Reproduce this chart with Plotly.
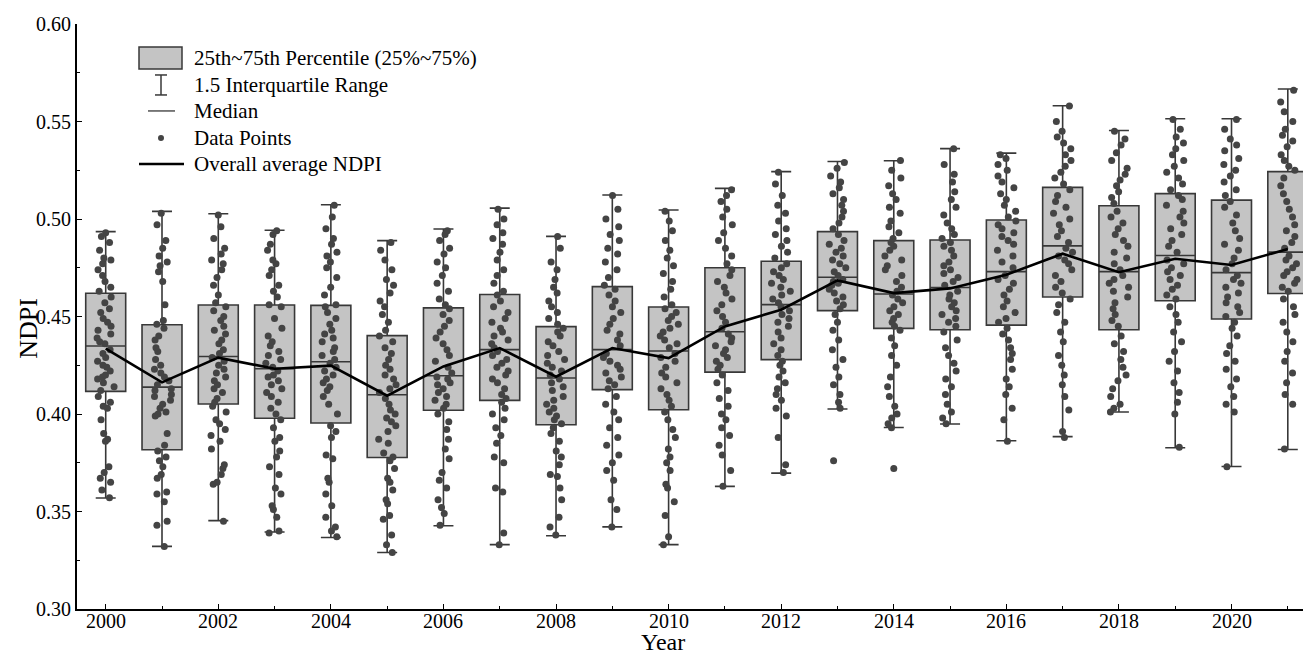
import plotly.graph_objects as go

years = list(range(2000, 2022))

# Box statistics
q1 = [0.4116, 0.3817, 0.4051, 0.3978, 0.3954, 0.3777, 0.4019, 0.4070, 0.3945, 0.4125, 0.4022,
      0.4215, 0.4279, 0.4530, 0.4439, 0.4432, 0.4456, 0.4600, 0.4432, 0.4581, 0.4487, 0.4618]
median = [0.4349, 0.4138, 0.4295, 0.4232, 0.4268, 0.4099, 0.4196, 0.4330, 0.4185, 0.4330, 0.4323,
          0.4422, 0.4561, 0.4701, 0.4615, 0.4649, 0.4730, 0.4862, 0.4730, 0.4813, 0.4725, 0.4830]
q3 = [0.4619, 0.4458, 0.4559, 0.4559, 0.4557, 0.4402, 0.4544, 0.4613, 0.4448, 0.4653, 0.4549,
      0.4750, 0.4783, 0.4935, 0.4889, 0.4892, 0.4995, 0.5162, 0.5068, 0.5130, 0.5097, 0.5243]
lower = [0.3569, 0.3321, 0.3453, 0.3395, 0.3367, 0.3290, 0.3427, 0.3330, 0.3376, 0.3421, 0.3330,
         0.3629, 0.3697, 0.4026, 0.3931, 0.3949, 0.3863, 0.3884, 0.4010, 0.3827, 0.3731, 0.3818]
upper = [0.4935, 0.5039, 0.5027, 0.4942, 0.5073, 0.4889, 0.4949, 0.5056, 0.4911, 0.5123, 0.5046,
         0.5157, 0.5243, 0.5295, 0.5299, 0.5361, 0.5338, 0.5581, 0.5454, 0.5514, 0.5514, 0.5667]

# Overall average NDPI
avg_ndpi = [0.4335, 0.4162, 0.4289, 0.4232, 0.4248, 0.4094, 0.4244, 0.4338, 0.4191, 0.4338, 0.4287,
            0.4449, 0.4535, 0.4685, 0.4620, 0.4644, 0.4714, 0.4822, 0.4727, 0.4796, 0.4764, 0.4846]

# Data points
pts_2000 = [0.357, 0.361, 0.365, 0.367, 0.370, 0.373, 0.386, 0.387, 0.390, 0.397, 0.403, 0.404, 0.406, 0.409,
            0.412, 0.414, 0.416, 0.418, 0.419, 0.420, 0.422, 0.424, 0.425, 0.427, 0.429, 0.431, 0.433,
            0.436, 0.437, 0.439, 0.441, 0.443, 0.445, 0.447, 0.449, 0.452, 0.454, 0.457, 0.460,
            0.463, 0.465, 0.468, 0.471, 0.474, 0.477, 0.479, 0.480, 0.484, 0.488, 0.491, 0.493]
pts_2001 = [0.332, 0.343, 0.345, 0.355, 0.359, 0.360, 0.367, 0.369, 0.373, 0.376, 0.378, 0.381,
            0.384, 0.390, 0.399, 0.400, 0.401, 0.403, 0.405, 0.407, 0.409, 0.410, 0.412, 0.413,
            0.415, 0.417, 0.419, 0.421, 0.423, 0.425, 0.428, 0.432, 0.434, 0.438, 0.440, 0.444,
            0.446, 0.448, 0.456, 0.468, 0.473, 0.476, 0.478, 0.481, 0.485, 0.489, 0.497, 0.503]
pts_2002 = [0.345, 0.364, 0.365, 0.369, 0.372, 0.374, 0.382, 0.386, 0.389, 0.392, 0.395, 0.397, 0.401, 0.404,
            0.406, 0.408, 0.411, 0.413, 0.415, 0.417, 0.419, 0.421, 0.423, 0.425, 0.427, 0.429,
            0.431, 0.433, 0.436, 0.438, 0.441, 0.443, 0.445, 0.448, 0.450, 0.453, 0.455,
            0.457, 0.461, 0.466, 0.470, 0.474, 0.477, 0.479, 0.482, 0.485, 0.490, 0.496, 0.502]
pts_2003 = [0.339, 0.340, 0.347, 0.351, 0.353, 0.359, 0.362, 0.369, 0.373, 0.378, 0.381, 0.386, 0.388, 0.393, 0.397,
            0.400, 0.403, 0.406, 0.409, 0.411, 0.413, 0.415, 0.417, 0.419, 0.420, 0.422,
            0.424, 0.426, 0.428, 0.430, 0.432, 0.435, 0.437, 0.440, 0.444, 0.449, 0.455,
            0.456, 0.460, 0.463, 0.466, 0.471, 0.474, 0.477, 0.479, 0.484, 0.487, 0.492, 0.494]
pts_2004 = [0.337, 0.340, 0.342, 0.347, 0.353, 0.359, 0.365, 0.367, 0.377, 0.379, 0.388, 0.391, 0.394,
            0.400, 0.405, 0.409, 0.412, 0.414, 0.416, 0.418, 0.420, 0.422, 0.424, 0.426,
            0.428, 0.430, 0.432, 0.434, 0.437, 0.439, 0.441, 0.443, 0.446, 0.449, 0.452, 0.455,
            0.456, 0.461, 0.465, 0.470, 0.475, 0.478, 0.481, 0.483, 0.487, 0.490, 0.495, 0.501, 0.507]
pts_2005 = [0.329, 0.333, 0.338, 0.346, 0.348, 0.354, 0.356, 0.361, 0.365, 0.367, 0.372, 0.376,
            0.378, 0.380, 0.385, 0.387, 0.391, 0.394, 0.396, 0.398, 0.400, 0.402, 0.405, 0.408,
            0.411, 0.413, 0.415, 0.418, 0.420, 0.423, 0.425, 0.428, 0.431, 0.434, 0.437, 0.440,
            0.443, 0.447, 0.451, 0.455, 0.458, 0.462, 0.466, 0.469, 0.474, 0.479, 0.484, 0.488]
pts_2006 = [0.343, 0.349, 0.352, 0.356, 0.362, 0.366, 0.370, 0.377, 0.382, 0.387, 0.392, 0.396, 0.400,
            0.403, 0.405, 0.407, 0.409, 0.411, 0.413, 0.415, 0.416, 0.418, 0.419,
            0.421, 0.424, 0.427, 0.430, 0.433, 0.436, 0.439, 0.442, 0.445, 0.448, 0.451, 0.454,
            0.456, 0.459, 0.463, 0.467, 0.471, 0.475, 0.478, 0.482, 0.485, 0.489, 0.492, 0.494]
pts_2007 = [0.333, 0.339, 0.360, 0.362, 0.375, 0.378, 0.385, 0.389, 0.393, 0.397, 0.400, 0.403, 0.406,
            0.408, 0.410, 0.413, 0.416, 0.418, 0.420, 0.422, 0.424, 0.426, 0.428, 0.430, 0.432,
            0.434, 0.436, 0.438, 0.440, 0.442, 0.444, 0.447, 0.449, 0.452, 0.455, 0.458, 0.461,
            0.463, 0.467, 0.471, 0.474, 0.479, 0.483, 0.487, 0.490, 0.493, 0.497, 0.500, 0.505]
pts_2008 = [0.338, 0.342, 0.347, 0.356, 0.362, 0.368, 0.369, 0.374, 0.378, 0.381, 0.386, 0.390, 0.393,
            0.395, 0.397, 0.399, 0.401, 0.403, 0.405, 0.407, 0.409, 0.412, 0.414, 0.416, 0.418,
            0.420, 0.422, 0.424, 0.426, 0.428, 0.430, 0.432, 0.435, 0.437, 0.440, 0.442, 0.444,
            0.446, 0.449, 0.452, 0.455, 0.458, 0.462, 0.465, 0.469, 0.474, 0.478, 0.485, 0.491]
pts_2009 = [0.342, 0.351, 0.356, 0.366, 0.371, 0.375, 0.379, 0.384, 0.388, 0.393, 0.397, 0.401, 0.405, 0.409,
            0.413, 0.415, 0.417, 0.419, 0.421, 0.423, 0.425, 0.427, 0.429, 0.431,
            0.435, 0.438, 0.441, 0.443, 0.446, 0.449, 0.452, 0.455, 0.458, 0.461, 0.464,
            0.466, 0.470, 0.474, 0.478, 0.482, 0.485, 0.489, 0.492, 0.496, 0.500, 0.505, 0.512]
pts_2010 = [0.333, 0.337, 0.348, 0.355, 0.362, 0.364, 0.371, 0.375, 0.378, 0.382, 0.388, 0.392, 0.397, 0.401,
            0.404, 0.407, 0.410, 0.413, 0.416, 0.419, 0.421, 0.424, 0.427, 0.429, 0.431,
            0.434, 0.436, 0.438, 0.440, 0.442, 0.444, 0.446, 0.448, 0.450, 0.452, 0.454,
            0.456, 0.460, 0.464, 0.468, 0.472, 0.476, 0.480, 0.484, 0.489, 0.494, 0.499, 0.504]
pts_2011 = [0.363, 0.371, 0.379, 0.384, 0.389, 0.393, 0.397, 0.400, 0.404, 0.408, 0.412, 0.416, 0.420,
            0.423, 0.425, 0.427, 0.429, 0.431, 0.433, 0.435, 0.437, 0.439, 0.441,
            0.444, 0.447, 0.450, 0.453, 0.456, 0.459, 0.462, 0.465, 0.468, 0.471, 0.474,
            0.477, 0.481, 0.485, 0.489, 0.493, 0.497, 0.501, 0.505, 0.509, 0.512, 0.515]
pts_2012 = [0.370, 0.374, 0.388, 0.399, 0.403, 0.407, 0.410, 0.413, 0.416, 0.419, 0.422, 0.425, 0.427,
            0.430, 0.433, 0.436, 0.439, 0.442, 0.445, 0.447, 0.449, 0.451, 0.453, 0.455,
            0.457, 0.459, 0.461, 0.463, 0.465, 0.467, 0.469, 0.471, 0.473, 0.475, 0.477,
            0.480, 0.483, 0.486, 0.489, 0.492, 0.495, 0.499, 0.503, 0.507, 0.512, 0.518, 0.524]
pts_2013 = [0.376, 0.403, 0.406, 0.410, 0.415, 0.419, 0.424, 0.428, 0.433, 0.438, 0.443, 0.447, 0.451,
            0.454, 0.456, 0.458, 0.460, 0.462, 0.464, 0.466, 0.467, 0.468, 0.469,
            0.471, 0.473, 0.475, 0.477, 0.479, 0.481, 0.483, 0.485, 0.487, 0.489, 0.492,
            0.495, 0.498, 0.501, 0.504, 0.507, 0.510, 0.513, 0.516, 0.519, 0.522, 0.526, 0.529]
pts_2014 = [0.372, 0.393, 0.395, 0.398, 0.400, 0.404, 0.409, 0.414, 0.419, 0.425, 0.430, 0.435, 0.439, 0.443,
            0.445, 0.447, 0.449, 0.451, 0.453, 0.455, 0.457, 0.459, 0.461,
            0.463, 0.465, 0.468, 0.471, 0.474, 0.476, 0.479, 0.481, 0.484, 0.486, 0.488,
            0.490, 0.493, 0.496, 0.499, 0.503, 0.506, 0.510, 0.513, 0.517, 0.521, 0.525, 0.530]
pts_2015 = [0.395, 0.398, 0.401, 0.405, 0.410, 0.414, 0.418, 0.422, 0.426, 0.430, 0.434, 0.438, 0.442,
            0.445, 0.447, 0.449, 0.451, 0.453, 0.455, 0.457, 0.459, 0.461, 0.463,
            0.466, 0.468, 0.470, 0.472, 0.474, 0.476, 0.478, 0.481, 0.484, 0.486, 0.488,
            0.490, 0.492, 0.495, 0.498, 0.502, 0.506, 0.510, 0.514, 0.519, 0.523, 0.528, 0.536]
pts_2016 = [0.386, 0.397, 0.403, 0.410, 0.414, 0.418, 0.423, 0.428, 0.431, 0.434, 0.438, 0.441, 0.444,
            0.447, 0.449, 0.452, 0.455, 0.458, 0.461, 0.464, 0.467, 0.469, 0.471,
            0.475, 0.478, 0.481, 0.484, 0.487, 0.489, 0.491, 0.493, 0.495, 0.497, 0.499,
            0.501, 0.504, 0.507, 0.510, 0.513, 0.516, 0.519, 0.522, 0.525, 0.528, 0.531, 0.533]
pts_2017 = [0.388, 0.391, 0.402, 0.409, 0.415, 0.420, 0.425, 0.430, 0.437, 0.442, 0.447, 0.452, 0.456, 0.459,
            0.462, 0.465, 0.468, 0.471, 0.474, 0.477, 0.479, 0.481, 0.483, 0.485,
            0.488, 0.491, 0.494, 0.497, 0.500, 0.503, 0.506, 0.509, 0.512, 0.515,
            0.518, 0.521, 0.524, 0.527, 0.530, 0.533, 0.536, 0.539, 0.542, 0.545, 0.550, 0.558]
pts_2018 = [0.401, 0.403, 0.405, 0.409, 0.413, 0.417, 0.420, 0.424, 0.428, 0.432, 0.436, 0.440,
            0.445, 0.448, 0.451, 0.454, 0.457, 0.460, 0.463, 0.465, 0.467, 0.469, 0.471,
            0.474, 0.477, 0.480, 0.483, 0.486, 0.489, 0.492, 0.495, 0.498, 0.501, 0.504,
            0.508, 0.511, 0.514, 0.517, 0.520, 0.523, 0.526, 0.530, 0.534, 0.538, 0.541, 0.545]
pts_2019 = [0.383, 0.400, 0.406, 0.411, 0.416, 0.422, 0.427, 0.432, 0.437, 0.442, 0.447, 0.451, 0.455,
            0.459, 0.461, 0.464, 0.466, 0.469, 0.471, 0.473, 0.475, 0.477, 0.479,
            0.483, 0.486, 0.489, 0.492, 0.495, 0.498, 0.501, 0.504, 0.507, 0.510, 0.512,
            0.515, 0.518, 0.521, 0.524, 0.527, 0.530, 0.533, 0.536, 0.539, 0.542, 0.546, 0.551]
pts_2020 = [0.373, 0.401, 0.405, 0.409, 0.414, 0.418, 0.423, 0.427, 0.431, 0.435, 0.440, 0.444, 0.447,
            0.450, 0.452, 0.455, 0.457, 0.460, 0.462, 0.465, 0.467, 0.469, 0.471,
            0.474, 0.477, 0.480, 0.484, 0.487, 0.490, 0.494, 0.498, 0.502, 0.506, 0.509,
            0.512, 0.515, 0.519, 0.522, 0.525, 0.528, 0.531, 0.535, 0.538, 0.541, 0.546, 0.551]
pts_2021 = [0.382, 0.405, 0.410, 0.416, 0.421, 0.427, 0.432, 0.437, 0.442, 0.447, 0.451, 0.455, 0.459,
            0.463, 0.465, 0.467, 0.469, 0.471, 0.473, 0.475, 0.477, 0.479, 0.481,
            0.485, 0.488, 0.491, 0.494, 0.497, 0.501, 0.505, 0.509, 0.513, 0.517, 0.521,
            0.525, 0.527, 0.530, 0.533, 0.537, 0.540, 0.543, 0.546, 0.550, 0.555, 0.560, 0.566]

point_lists = [pts_2000, pts_2001, pts_2002, pts_2003, pts_2004, pts_2005, pts_2006, pts_2007,
               pts_2008, pts_2009, pts_2010, pts_2011, pts_2012, pts_2013, pts_2014, pts_2015,
               pts_2016, pts_2017, pts_2018, pts_2019, pts_2020, pts_2021]

tick_years = list(range(2000, 2022, 2))
tick_values_y = [0.30, 0.35, 0.40, 0.45, 0.50, 0.55, 0.60]

legend_labels = ["25th~75th Percentile (25%~75%)", "1.5 Interquartile Range", "Median",
                 "Data Points", "Overall average NDPI"]

px_x, px_y = [], []
for yr, pts in zip(years, point_lists):
    px_x += [yr] * len(pts)
    px_y += pts

FONT = "Liberation Serif"
BOX_FILL = "#c4c4c4"
BOX_LINE = "#383838"
PT_COLOR = "#444444"
BOXW = 0.71

fig = go.Figure()
fig.add_trace(go.Box(
    x=years, q1=q1, median=median, q3=q3, lowerfence=lower, upperfence=upper,
    fillcolor=BOX_FILL, line=dict(color=BOX_LINE, width=1.6), width=BOXW,
    whiskerwidth=0.5, boxpoints=False, showlegend=False, hoverinfo="skip"))
fig.add_trace(go.Box(
    x=px_x, y=px_y, boxpoints="all", jitter=0.5, pointpos=0,
    fillcolor="rgba(0,0,0,0)", line=dict(width=0, color="rgba(0,0,0,0)"), width=BOXW,
    whiskerwidth=0, marker=dict(color=PT_COLOR, size=7), showlegend=False))
fig.add_trace(go.Scatter(
    x=years, y=avg_ndpi, mode="lines", line=dict(color="#000000", width=2.6),
    showlegend=False))

# Plot area geometry in pixels (for placing the manual legend)
L, R, T, B = 77, 1303, 24, 609.3


def pxx(p):
    return (p - L) / (R - L)


def pxy(p):
    return (B - p) / (B - T)


shapes = []
annotations = []
rows_y = [58, 85, 111, 138, 164]
# icon 1: box
shapes.append(dict(type="rect", xref="paper", yref="paper", x0=pxx(139), x1=pxx(182),
                   y0=pxy(69), y1=pxy(47), fillcolor=BOX_FILL, line=dict(color=BOX_LINE, width=1.5)))
# icon 2: whisker I
shapes.append(dict(type="line", xref="paper", yref="paper", x0=pxx(161), x1=pxx(161),
                   y0=pxy(95), y1=pxy(75), line=dict(color=BOX_LINE, width=1.5)))
shapes.append(dict(type="line", xref="paper", yref="paper", x0=pxx(155), x1=pxx(167),
                   y0=pxy(75), y1=pxy(75), line=dict(color=BOX_LINE, width=1.5)))
shapes.append(dict(type="line", xref="paper", yref="paper", x0=pxx(155), x1=pxx(167),
                   y0=pxy(95), y1=pxy(95), line=dict(color=BOX_LINE, width=1.5)))
# icon 3: median
shapes.append(dict(type="line", xref="paper", yref="paper", x0=pxx(148), x1=pxx(175),
                   y0=pxy(111), y1=pxy(111), line=dict(color=BOX_LINE, width=1.3)))
# icon 4: dot
shapes.append(dict(type="circle", xref="paper", yref="paper", x0=pxx(158), x1=pxx(164),
                   y0=pxy(141), y1=pxy(135), fillcolor=PT_COLOR, line=dict(width=0)))
# icon 5: thick line
shapes.append(dict(type="line", xref="paper", yref="paper", x0=pxx(139), x1=pxx(184),
                   y0=pxy(164), y1=pxy(164), line=dict(color="#000000", width=2.6)))

for lab, ry in zip(legend_labels, rows_y):
    annotations.append(dict(text=lab, xref="paper", yref="paper", x=pxx(192), y=pxy(ry),
                            xanchor="left", yanchor="middle", showarrow=False,
                            font=dict(family=FONT, size=21, color="#000000")))

# Tick labels drawn as text so they keep the serif face
for yr in tick_years:
    annotations.append(dict(text=str(yr), xref="x", yref="paper", x=yr, y=pxy(621),
                            xanchor="center", yanchor="middle", showarrow=False,
                            font=dict(family=FONT, size=20, color="#000000")))
for v in tick_values_y:
    annotations.append(dict(text="%.2f" % v, xref="paper", yref="y", x=pxx(73), y=v,
                            xanchor="right", yanchor="middle", showarrow=False,
                            font=dict(family=FONT, size=20, color="#000000")))

annotations.append(dict(text="Year", xref="paper", yref="paper", x=pxx(663), y=pxy(642),
                        xanchor="center", yanchor="middle", showarrow=False,
                        font=dict(family=FONT, size=24, color="#000000")))
annotations.append(dict(text="NDPI", xref="paper", yref="paper", x=pxx(29), y=pxy(329),
                        xanchor="center", yanchor="middle", showarrow=False, textangle=-90,
                        font=dict(family=FONT, size=26, color="#000000")))

fig.update_layout(
    width=1303, height=653,
    margin=dict(l=L, r=0, t=T, b=653 - B),
    paper_bgcolor="white", plot_bgcolor="white",
    boxmode="overlay",
    font=dict(family=FONT, size=20, color="#000000"),
    shapes=shapes, annotations=annotations,
    xaxis=dict(range=[1999.49, 2021.27], tickmode="array", tickvals=tick_years,
               showticklabels=False,
               ticks="inside", ticklen=5, tickwidth=1.3, tickcolor="#000000",
               showline=True, linecolor="#000000", linewidth=1.6, showgrid=False,
               zeroline=False,
               minor=dict(ticks="inside", dtick=1, tick0=2000, ticklen=3, tickwidth=1.2,
                          tickcolor="#000000", showgrid=False)),
    yaxis=dict(range=[0.30, 0.60], tickmode="array", tickvals=tick_values_y,
               showticklabels=False,
               ticks="inside", ticklen=5, tickwidth=1.3, tickcolor="#000000",
               showline=True, linecolor="#000000", linewidth=1.6, showgrid=False,
               zeroline=False,
               minor=dict(ticks="inside", dtick=0.025, tick0=0.30, ticklen=3, tickwidth=1.2,
                          tickcolor="#000000", showgrid=False)),
)

fig.write_html("out.html")
